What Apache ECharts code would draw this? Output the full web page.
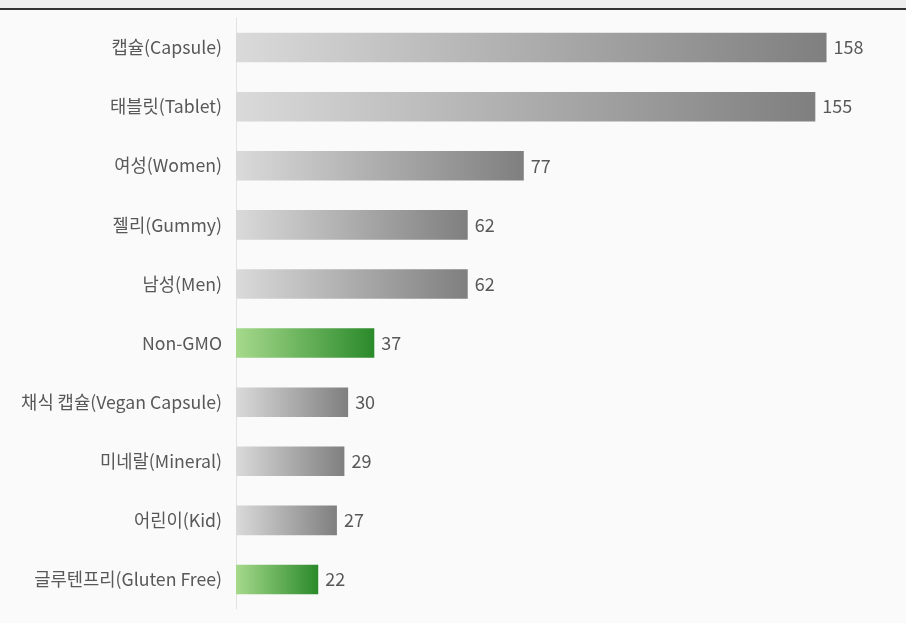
<!DOCTYPE html>
<html><head><meta charset="utf-8">
<script src="https://cdn.jsdelivr.net/npm/echarts@6/dist/echarts.min.js"></script>
<style>html,body{margin:0;padding:0;background:#fafafa;}#c{width:906px;height:623px;}</style>
</head><body><div id="c"></div>
<script>
const categories = ['캡슐(Capsule)','태블릿(Tablet)','여성(Women)','젤리(Gummy)','남성(Men)','Non-GMO','채식 캡슐(Vegan Capsule)','미네랄(Mineral)','어린이(Kid)','글루텐프리(Gluten Free)'];
const values = [158,155,77,62,62,37,30,29,27,22];
const highlighted = ['Non-GMO','글루텐프리(Gluten Free)'];

const grayGrad = new echarts.graphic.LinearGradient(0,0,1,0,[{offset:0,color:'#dadada'},{offset:1,color:'#7f7f7f'}]);
const greenGrad = new echarts.graphic.LinearGradient(0,0,1,0,[{offset:0,color:'#a6d98c'},{offset:1,color:'#2a8a2a'}]);
const font = '"Noto Sans CJK KR","Noto Sans",sans-serif';

const chart = echarts.init(document.getElementById('c'));
chart.setOption({
  backgroundColor:'#fafafa',
  animation:false,
  graphic:[
    {type:'rect',left:0,top:0,shape:{width:906,height:8},style:{fill:'#eeeeee'},z:0},
    {type:'rect',left:0,top:8,shape:{width:906,height:2},style:{fill:'#333333'},z:0}
  ],
  grid:{left:236,top:18,right:72,bottom:14,containLabel:false},
  xAxis:{type:'value',min:0,max:160,show:false},
  yAxis:{type:'category',inverse:true,data:categories,
    axisLine:{show:true,lineStyle:{color:'#e2e2e2',width:1}},
    axisTick:{show:false},
    axisLabel:{color:'#585858',fontSize:17.7,margin:14,fontFamily:font}
  },
  series:[{type:'bar',barCategoryGap:'50%',
    data:values.map((v,i)=>({value:v,itemStyle:{color:highlighted.includes(categories[i])?greenGrad:grayGrad}})),
    label:{show:true,position:'right',distance:7,color:'#585858',fontSize:18,fontFamily:font}
  }]
});
</script></body></html>
